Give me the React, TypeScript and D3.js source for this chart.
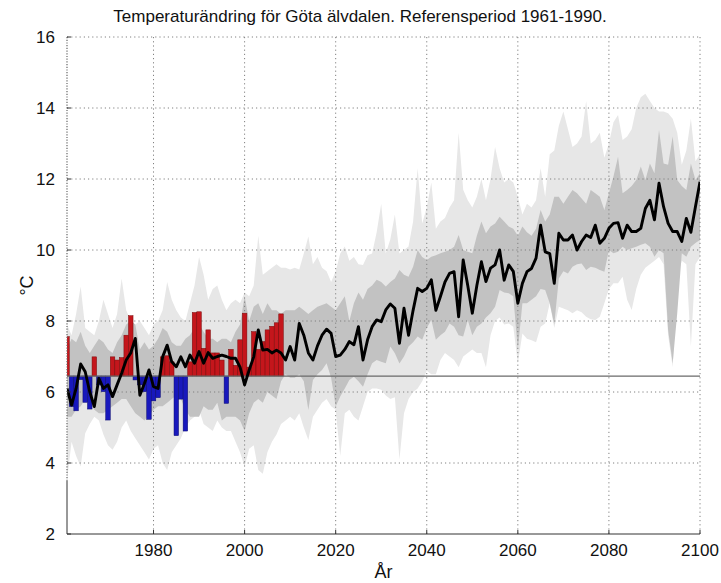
import React from "react";
import * as d3 from "d3";

const firstYear = 1961;
const lastYear = 2100;
const years = d3.range(firstYear, lastYear + 1);
const obsYears = d3.range(1961, 2009);
const refMean = 6.45;
const xTicks = [1980, 2000, 2020, 2040, 2060, 2080, 2100];
const yTicks = [2, 4, 6, 8, 10, 12, 14, 16];
const title = "Temperaturändring för Göta älvdalen. Referensperiod 1961-1990.";
const xLabel = "År";
const yLabel = "°C";

// observed annual mean temperature 1961-2008
const observed = [
  7.56, 5.59, 5.47, 6.35, 5.71, 5.52, 6.99, 6.2, 6.01, 5.21,
  6.99, 6.9, 6.97, 7.6, 8.15, 6.34, 6.2, 6.01, 5.23, 5.75,
  5.84, 6.99, 7.02, 6.85, 4.77, 5.8, 4.9, 6.85, 8.24, 8.26,
  7.23, 7.75, 7.1, 7.1, 6.9, 5.68, 7.2, 6.75, 7.47, 8.22,
  6.7, 7.7, 7.2, 7.42, 7.75, 7.85, 7.95, 8.2,
];

// ensemble mean 1961-2100
const modelMean = [
  6.1, 5.63, 6.1, 6.79, 6.57, 6.0, 5.59, 6.38, 6.1, 6.2,
  5.87, 6.2, 6.53, 6.9, 7.1, 7.51, 5.91, 6.24, 6.62, 6.15,
  6.1, 6.99, 7.32, 6.85, 6.71, 6.99, 6.71, 7.04, 6.81, 7.14,
  6.81, 7.11, 6.95, 7.0, 7.04, 7.0, 6.95, 6.95, 6.7, 6.2,
  6.62, 6.99, 7.75, 7.18, 7.2, 7.1, 7.18, 7.1, 6.9, 7.28,
  6.9, 7.93, 7.6, 7.1, 6.9, 7.3, 7.6, 7.77, 7.65, 7.0,
  7.04, 7.2, 7.42, 7.33, 7.84, 6.9, 7.47, 7.84, 8.03, 7.98,
  8.31, 8.48, 8.36, 7.37, 8.36, 7.6, 8.3, 8.92, 8.83, 8.92,
  9.16, 8.3, 8.69, 9.1, 9.34, 9.39, 8.12, 9.72, 9.0, 8.22,
  9.0, 9.67, 9.11, 9.49, 9.58, 10.0, 9.15, 9.58, 9.4, 8.5,
  9.06, 9.39, 9.48, 9.77, 10.7, 9.95, 9.9, 9.06, 10.47, 10.28,
  10.28, 10.42, 10.0, 10.24, 10.42, 10.35, 10.7, 10.19, 10.33, 10.61,
  10.75, 10.77, 10.33, 10.7, 10.52, 10.52, 10.61, 11.17, 11.4, 10.85,
  11.88, 11.22, 10.75, 10.52, 10.52, 10.24, 10.89, 10.5, 11.22, 11.92,
];

// outer (light grey) band
const outerUpper = [
  7.9, 7.6, 8.2, 8.97, 7.8, 7.7, 7.6, 8.0, 8.6, 8.2,
  7.8, 8.2, 9.2, 8.3, 8.0, 7.9, 8.0, 7.8, 7.6, 7.9,
  8.0, 8.3, 9.1, 8.6, 8.3, 8.1, 8.0, 8.5, 9.0, 9.8,
  9.3, 8.6, 8.9, 9.0, 8.6, 8.3, 8.5, 8.6, 8.5, 8.8,
  8.7, 9.0, 10.4, 9.3, 9.4, 9.5, 9.6, 9.5, 9.5, 9.45,
  9.5, 9.45, 9.9, 10.38, 9.6, 9.8, 9.5, 9.4, 9.1, 9.4,
  9.9, 10.1, 9.7, 9.8, 9.6, 9.58, 9.85, 9.9, 10.5, 11.3,
  9.9, 10.3, 11.0, 9.9, 10.0, 10.1, 10.8, 12.3, 10.75, 11.2,
  11.9, 10.6, 10.8, 10.9, 11.2, 11.4, 13.3, 11.7, 11.4, 11.2,
  11.5, 12.0, 11.4, 12.0, 12.9, 12.3, 11.9, 12.0, 11.9, 11.5,
  11.0, 11.3, 11.2, 11.4, 12.3, 11.5, 12.7, 12.8, 13.5, 13.9,
  13.4, 12.9, 13.0, 13.2, 14.2, 13.0, 13.1, 13.3, 12.6, 13.0,
  13.6, 13.8, 13.1, 13.2, 13.4, 14.0, 14.3, 14.4, 14.2, 14.0,
  13.9, 13.9, 13.85, 13.7, 13.3, 12.4, 12.8, 13.7, 12.5, 12.7,
];
const outerLower = [
  3.5, 4.6, 4.2, 3.9, 4.84, 5.1, 5.3, 5.2, 4.8, 4.5,
  4.37, 4.6, 5.0, 5.2, 4.9, 4.7, 4.5, 4.3, 4.1, 4.4,
  4.5, 4.0, 3.8, 4.3, 4.5, 4.7, 5.0, 5.2, 5.3, 5.5,
  5.1, 5.0, 4.9, 5.2, 5.0, 4.9, 4.9, 4.6, 4.3, 3.9,
  4.4, 4.5, 3.8, 3.7, 4.3, 4.6, 4.8, 5.1, 5.2, 5.3,
  5.2, 5.4, 5.0, 4.65, 5.3, 5.5, 5.7, 5.8, 5.6, 5.5,
  4.2, 5.4, 5.5, 5.3, 5.2, 5.6, 6.0, 6.1, 6.1, 6.06,
  5.9, 5.8, 5.85, 4.1, 5.4, 5.8, 6.0, 6.1, 6.3, 6.6,
  6.5, 6.5, 6.9, 7.1, 7.0, 6.9, 6.7, 7.0, 7.1, 7.2,
  7.1, 7.1, 6.7, 7.6, 8.0, 8.1, 7.9, 7.93, 7.84, 6.81,
  7.65, 7.5, 7.46, 7.4, 7.84, 7.93, 8.5, 7.8, 8.4, 8.35,
  8.3, 8.22, 8.3, 8.25, 8.12, 8.05, 8.03, 8.12, 8.5, 8.9,
  9.06, 9.06, 9.25, 8.6, 8.31, 8.9, 9.3, 9.5, 9.6, 9.7,
  9.8, 9.6, 7.6, 6.7, 9.2, 9.7, 9.6, 7.28, 9.6, 9.8,
];

// inner (dark grey) band
const innerUpper = [
  7.2, 7.5, 7.4, 7.7, 7.3, 7.1, 7.3, 7.5, 7.4, 7.2,
  7.1, 7.4, 7.6, 7.9, 8.0, 7.9, 7.2, 7.4, 7.2, 7.3,
  7.5, 7.8, 7.7, 7.4, 7.3, 7.3, 7.5, 7.6, 7.8, 7.9,
  7.7, 7.5, 7.5, 7.4, 7.5, 7.5, 7.4, 7.7, 7.9, 8.7,
  8.0, 8.4, 8.5, 8.2, 8.5, 8.3, 8.3, 8.2, 8.3, 8.3,
  8.3, 8.4, 8.3, 8.2, 8.3, 8.4, 8.45, 8.5, 8.4, 8.3,
  8.5, 8.7, 8.0, 8.5, 8.8, 8.6, 8.9, 9.0, 9.16, 9.1,
  8.97, 9.1, 9.2, 9.44, 9.3, 9.25, 9.53, 10.0, 9.8, 9.72,
  9.81, 9.85, 9.91, 9.95, 10.0, 10.09, 10.42, 10.0, 9.95, 9.91,
  10.4, 10.8, 10.47, 10.66, 10.75, 10.94, 10.8, 10.66, 10.6, 10.4,
  10.66, 10.5, 10.4, 10.6, 11.13, 10.8, 11.0, 11.5, 11.5, 11.3,
  11.5, 11.69, 11.6, 11.45, 11.3, 11.69, 11.6, 11.5, 11.13, 11.6,
  12.07, 12.63, 11.6, 11.69, 11.8, 11.97, 12.35, 11.97, 12.44, 12.16,
  13.38, 12.44, 12.4, 13.2, 11.97, 11.8, 11.69, 12.44, 11.97, 12.16,
];
const innerLower = [
  5.3, 5.3, 5.5, 5.6, 5.8, 5.7, 5.5, 5.4, 5.4, 5.5,
  5.6, 5.7, 5.8, 5.8, 5.6, 5.4, 5.3, 5.2, 5.35, 5.5,
  5.6, 5.6, 5.7, 5.8, 5.9, 5.8, 5.5, 5.3, 5.3, 5.3,
  5.6, 5.5, 5.5, 5.7, 5.2, 5.3, 5.3, 5.3, 5.2, 4.9,
  5.4, 5.7, 5.8, 5.7, 6.0, 5.9, 5.8, 6.3, 6.5, 6.4,
  6.4, 6.5, 6.3, 5.49, 6.34, 6.5, 6.62, 6.81, 6.4, 5.59,
  5.87, 6.1, 6.34, 6.43, 6.3, 6.15, 6.5, 6.81, 6.9, 6.85,
  6.81, 7.28, 7.09, 6.8, 7.0, 7.28, 7.4, 7.56, 7.47, 7.8,
  8.03, 7.47, 7.6, 7.7, 7.93, 7.84, 7.6, 7.56, 8.03, 7.6,
  7.84, 7.93, 8.1, 8.22, 8.4, 8.87, 8.8, 8.78, 8.7, 7.18,
  8.5, 8.5, 8.6, 8.7, 8.9, 8.87, 8.5, 7.9, 9.2, 9.4,
  9.34, 9.53, 9.6, 9.62, 9.44, 9.53, 9.5, 9.44, 9.39, 10.0,
  9.91, 9.95, 10.09, 10.0, 10.05, 10.09, 10.15, 10.19, 10.09, 9.81,
  10.0, 9.91, 7.75, 6.81, 8.22, 9.91, 9.81, 10.09, 10.2, 10.28,
];

const FONT = "'Liberation Sans', Arial, Helvetica, sans-serif";

export default function App() {
  const left = 67, right = 700, top = 37, bottom = 534;
  const x = d3.scaleLinear().domain([firstYear, lastYear]).range([left, right]);
  const y = d3.scaleLinear().domain([2, 16]).range([bottom, top]);

  const rows = years.map((yr, i) => ({
    yr,
    mean: modelMean[i],
    oHi: outerUpper[i],
    oLo: outerLower[i],
    iHi: innerUpper[i],
    iLo: innerLower[i],
  }));

  const outerArea = d3
    .area<any>()
    .x((d) => x(d.yr))
    .y0((d) => y(d.oLo))
    .y1((d) => y(d.oHi))(rows) as string;
  const innerArea = d3
    .area<any>()
    .x((d) => x(d.yr))
    .y0((d) => y(d.iLo))
    .y1((d) => y(d.iHi))(rows) as string;
  const meanLine = d3
    .line<any>()
    .x((d) => x(d.yr))
    .y((d) => y(d.mean))(rows) as string;

  const gridColor = "#808080";
  const axisColor = "#333";

  return (
    <div style={{ position: "absolute", left: 0, top: 0 }}>
      <svg width={721} height={583} style={{ display: "block", background: "#fff" }} fontFamily={FONT}>
        <defs>
          <clipPath id="plotClip">
            <rect x={left} y={top} width={right - left} height={bottom - top} />
          </clipPath>
        </defs>
        <text x={360} y={22} textAnchor="middle" fontSize={17} fill="#111">
          {title}
        </text>

        <g clipPath="url(#plotClip)">
          <path d={outerArea} fill="#e7e7e7" />
          <path d={innerArea} fill="#c2c2c2" />
        </g>

        {/* grid */}
        {yTicks
          .filter((t) => t > 2)
          .map((t) => (
            <line
              key={"gy" + t}
              x1={left}
              x2={right}
              y1={y(t)}
              y2={y(t)}
              stroke={gridColor}
              strokeWidth={1}
              strokeDasharray="1.2,3"
            />
          ))}
        {xTicks.map((t) => (
          <line
            key={"gx" + t}
            x1={x(t)}
            x2={x(t)}
            y1={top}
            y2={bottom}
            stroke={gridColor}
            strokeWidth={1}
            strokeDasharray="1.2,3"
          />
        ))}

        {/* observed bars */}
        <g clipPath="url(#plotClip)">
          {obsYears.map((yr, i) => {
            const v = observed[i];
            const up = v >= refMean;
            const x0 = x(yr - 0.5);
            const x1 = x(yr + 0.5);
            const y0 = y(Math.max(v, refMean));
            const y1 = y(Math.min(v, refMean));
            return (
              <rect
                key={"b" + yr}
                x={x0}
                y={y0}
                width={x1 - x0}
                height={y1 - y0}
                fill={up ? "#c4161c" : "#1818bc"}
                stroke={up ? "#7a0a0a" : "#0a0a70"}
                strokeWidth={0.5}
              />
            );
          })}
        </g>

        {/* reference line */}
        <line x1={left} x2={right} y1={y(refMean)} y2={y(refMean)} stroke="#6a6a6a" strokeWidth={1.2} />

        {/* mean line */}
        <path d={meanLine} fill="none" stroke="#000" strokeWidth={2.9} strokeLinejoin="round" clipPath="url(#plotClip)" />

        {/* axes */}
        <line x1={left} x2={right} y1={bottom} y2={bottom} stroke={axisColor} strokeWidth={1} />
        <line x1={left} x2={left} y1={top} y2={y(3.5)} stroke="#666" strokeWidth={1.2} strokeDasharray="1.2,1.5" />
        <line x1={left} x2={left} y1={y(3.5)} y2={bottom} stroke={axisColor} strokeWidth={1} />
        {yTicks.map((t) => (
          <g key={"yt" + t}>
            <line x1={left} x2={left + 4} y1={y(t)} y2={y(t)} stroke={axisColor} strokeWidth={1} />
            <text x={55} y={y(t)} dy="0.36em" textAnchor="end" fontSize={17} fill="#111">
              {t}
            </text>
          </g>
        ))}
        {xTicks.map((t) => (
          <g key={"xt" + t}>
            <line x1={x(t)} x2={x(t)} y1={bottom} y2={bottom - 4} stroke={axisColor} strokeWidth={1} />
            <text x={x(t)} y={556} textAnchor="middle" fontSize={17} fill="#111">
              {t}
            </text>
          </g>
        ))}
        <text x={(left + right) / 2} y={578} textAnchor="middle" fontSize={18} fill="#111">
          {xLabel}
        </text>
        <text
          transform={`translate(27, ${(top + bottom) / 2}) rotate(-90)`}
          textAnchor="middle"
          dy="0.36em"
          fontSize={18}
          fill="#111"
        >
          {yLabel}
        </text>
      </svg>
    </div>
  );
}
